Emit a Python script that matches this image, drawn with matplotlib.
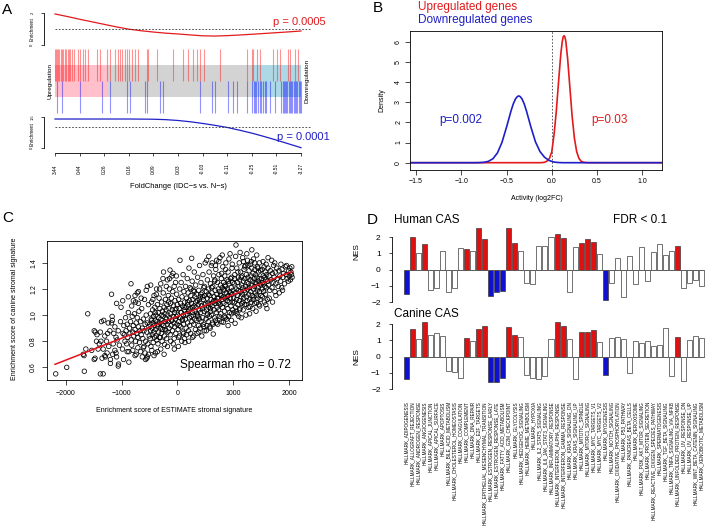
import numpy as np
import matplotlib
matplotlib.use('Agg')
import matplotlib.pyplot as plt

plt.rcParams['font.family'] = ['Liberation Sans', 'DejaVu Sans']
plt.rcParams['axes.linewidth'] = 0.6

RED = '#E31A1C'
BLUE = '#1F1FC8'
BAR_RED = '#DD1111'
BAR_BLUE = '#1010D0'

# ================= Panel A data =================
fc_tick_labels = ['3.44', '0.44', '0.26', '0.16', '0.09', '0.03', '-0.03', '-0.11', '-0.25', '-0.51', '-3.27']
up_worm_rank = [0, .05, .1, .15, .2, .25, .3, .35, .4, .45, .5, .55, .6, .65, .7, .75, .8, .85, .9, .95, 1.0]
up_worm_enrich = [1.94, 1.78, 1.61, 1.45, 1.29, 1.13, 0.99, 0.89, 0.81, 0.74, 0.69, 0.63, 0.575, 0.56, 0.585,
                  0.625, 0.67, 0.72, 0.77, 0.82, 0.875]
down_worm_rank = [0, .1, .2, .3, .35, .4, .45, .5, .55, .6, .65, .7, .75, .8, .85, .9, .95, 1.0]
down_worm_enrich = [1.39, 1.39, 1.39, 1.39, 1.385, 1.38, 1.36, 1.32, 1.26, 1.18, 1.09, 0.99, 0.86, 0.72,
                    0.56, 0.39, 0.21, 0.03]
up_gene_ranks = [0.0, 0.004, 0.008, 0.012, 0.018, 0.024, 0.028, 0.034, 0.041, 0.045, 0.051, 0.057, 0.061,
                 0.069, 0.077, 0.093, 0.102, 0.114, 0.122, 0.134, 0.171, 0.183, 0.211, 0.224, 0.244, 0.256,
                 0.264, 0.272, 0.285, 0.293, 0.301, 0.313, 0.325, 0.337, 0.374, 0.378, 0.415, 0.48, 0.52,
                 0.541, 0.561, 0.577, 0.589, 0.606, 0.671, 0.78, 0.801, 0.805, 0.821, 0.833, 0.886, 0.902,
                 0.915, 0.947, 0.955, 0.976, 0.988]
down_gene_ranks = [0.007, 0.027, 0.102, 0.19, 0.224, 0.292, 0.305, 0.366, 0.372, 0.427, 0.44, 0.589, 0.637,
                   0.65, 0.705, 0.725, 0.738, 0.779, 0.801, 0.807, 0.813, 0.818, 0.825, 0.832, 0.838, 0.845,
                   0.852, 0.858, 0.874, 0.894, 0.92, 0.925, 0.93, 0.935, 0.94, 0.945, 0.95, 0.955, 0.96,
                   0.965, 0.97, 0.975, 0.98, 0.985, 0.99, 0.995, 1.0]
up_shade_end = 0.215
down_shade_start = 0.80
pA_up = 'p = 0.0005'
pA_down = 'p = 0.0001'

# ================= Panel B data =================
b_up_x = [-1.6, -0.15, -0.1, -0.075, -0.05, -0.025, 0.0, 0.025, 0.05, 0.075, 0.1, 0.115, 0.125, 0.135,
          0.145, 0.155, 0.175, 0.2, 0.225, 0.25, 0.275, 0.3, 0.325, 0.35, 0.4, 1.25]
b_up_y = [0, 0, 0.006, 0.03, 0.088, 0.22, 0.55, 1.39, 2.56, 4.02, 5.41, 5.98, 6.22, 6.3, 6.23, 6.02, 5.16,
          3.72, 2.29, 1.21, 0.546, 0.21, 0.07, 0.02, 0.001, 0]
b_down_x = [-1.6, -0.85, -0.8, -0.75, -0.7, -0.65, -0.6, -0.55, -0.5, -0.45, -0.425, -0.4, -0.38, -0.365,
            -0.35, -0.33, -0.305, -0.28, -0.23, -0.18, -0.13, -0.08, -0.03, 0.02, 0.07, 0.12, 1.25]
b_down_y = [0, 0.0, 0.005, 0.019, 0.067, 0.197, 0.487, 1.01, 1.76, 2.57, 2.92, 3.17, 3.28, 3.31, 3.28,
            3.17, 2.92, 2.57, 1.76, 1.03, 0.55, 0.27, 0.11, 0.035, 0.01, 0.0, 0]
pB_down = 'p=0.002'
pB_up = 'p=0.03'

# ================= Panel C data =================
stromal_pairs = [
    (-2179, 0.55), (-1982, 0.60), (-1667, 0.57), (-1685, 0.70), (-1672, 0.69), (-1535, 0.73), (-1606, 1.01),
    (-1640, 0.74),
    (-1490, 0.88), (-1470, 0.87), (-1490, 0.66), (-1475, 0.67), (-1360, 0.95), (-1320, 0.96), (-1380, 0.55),
    (-1330, 0.55), (-1370, 0.80), (-1270, 0.80), (-1290, 0.68), (-1300, 0.69), (-1200, 0.66), (-1200, 0.63),
    (-1180, 0.94), (-1170, 0.99), (-1165, 0.96), (-1180, 1.16), (-1055, 0.625), (-1120, 0.73), (-1100, 0.71),
    (-1100, 0.83), (-1080, 0.81), (-1090, 1.09), (-1010, 1.06), (-1060, 0.61), (-1090, 0.68), (-1440, 0.85),
    (-1420, 0.74), (-1400, 0.78), (-1350, 0.67), (-1330, 0.74), (-1300, 0.84), (-1250, 0.86), (-1230, 0.76),
    (-1210, 0.88), (-1150, 0.78), (-1140, 0.86), (-1120, 0.91), (-1060, 0.88), (-1040, 0.77), (-1020, 0.95),
    (-1260, 0.71), (-1160, 0.70), (-1240, 0.94), (-1450, 0.80), (-1380, 0.87),
    (-980, 1.11), (-832, 1.24), (-790, 1.11), (-750, 1.10), (-700, 1.09), (-700, 1.18), (-720, 1.17),
    (-760, 0.69), (-740, 0.70), (-900, 0.72), (-910, 0.78), (-820, 0.77), (-870, 0.72), (-710, 0.75),
    (-610, 0.75), (-570, 0.66), (-540, 0.68), (-550, 0.67), (-520, 0.70), (-960, 0.92), (-950, 0.85),
    (-940, 0.80), (-930, 0.98), (-920, 0.88), (-900, 0.93), (-890, 0.83), (-880, 1.02), (-860, 0.90),
    (-850, 0.86), (-840, 0.95), (-830, 0.81), (-810, 0.99), (-800, 0.87), (-790, 0.92), (-780, 0.84),
    (-770, 1.01), (-760, 0.89), (-750, 0.80), (-740, 0.94), (-730, 0.86), (-720, 0.98), (-710, 0.83),
    (-700, 0.91), (-690, 1.03), (-680, 0.79), (-670, 0.88), (-660, 0.95), (-650, 0.85), (-640, 1.05),
    (-630, 0.90), (-620, 0.82), (-610, 0.97), (-600, 0.88), (-590, 1.12), (-580, 0.93), (-570, 0.80),
    (-560, 1.00), (-550, 0.87), (-540, 0.94), (-530, 0.78), (-520, 1.08), (-510, 0.91), (-505, 0.84),
    (-985, 0.74), (-975, 0.86), (-965, 0.66), (-870, 0.64), (-800, 0.73), (-660, 0.72), (-630, 0.68),
    (-600, 0.76), (-580, 0.71), (-880, 1.14), (-820, 1.07), (-760, 1.15), (-650, 1.13), (-560, 1.19),
    (-540, 1.22),
    (-495, 0.93), (-490, 0.82), (-485, 1.01), (-480, 0.88), (-475, 0.76), (-470, 0.97), (-465, 1.10),
    (-460, 0.73), (-455, 0.90), (-450, 0.85), (-445, 1.04), (-440, 0.94), (-435, 0.79), (-430, 0.99),
    (-425, 0.87), (-420, 1.15), (-415, 0.92), (-410, 0.83), (-405, 1.06), (-400, 0.96), (-395, 0.71),
    (-390, 0.89), (-385, 1.00), (-380, 0.84), (-375, 1.20), (-370, 0.81), (-365, 0.95), (-360, 1.08),
    (-355, 0.91), (-350, 0.78), (-345, 1.02), (-340, 0.87), (-335, 0.98), (-330, 1.13), (-325, 0.83),
    (-320, 0.94), (-315, 1.05), (-310, 0.83), (-305, 0.90), (-300, 1.24), (-295, 0.97), (-290, 0.86),
    (-285, 1.10), (-280, 0.93), (-275, 0.80), (-270, 1.03), (-265, 0.89), (-260, 0.99), (-255, 1.17),
    (-250, 1.33), (-245, 0.92), (-240, 1.06), (-235, 0.84), (-230, 0.775), (-225, 1.01), (-220, 0.95),
    (-215, 1.12), (-210, 0.88), (-205, 1.04), (-200, 0.97), (-195, 0.82), (-190, 1.08), (-185, 0.93),
    (-180, 1.27), (-175, 1.00), (-170, 0.87), (-165, 1.15), (-160, 0.95), (-155, 1.05), (-150, 0.90),
    (-145, 1.20), (-140, 0.98), (-134, 1.345), (-130, 0.85), (-125, 1.09), (-120, 1.01), (-115, 0.92),
    (-110, 1.13), (-105, 0.96), (-100, 1.30), (-95, 1.04), (-90, 0.88), (-85, 1.18), (-80, 0.99),
    (-75, 0.78), (-70, 1.07), (-65, 0.94), (-60, 1.22), (-57, 0.74), (-55, 1.02), (-50, 0.91), (-45, 1.11),
    (-40, 0.97), (-35, 1.25), (-30, 0.86), (-25, 1.05), (-20, 0.99), (-15, 1.16), (-10, 0.93), (-5, 1.08),
    (-480, 1.23), (-420, 0.69), (-360, 0.72), (-300, 0.74), (-240, 0.70), (-180, 0.76), (-120, 0.80),
    (-60, 0.82), (-440, 1.12), (-380, 1.16), (-320, 1.20), (-260, 1.28), (-200, 1.22), (-140, 1.28),
    (-80, 1.32), (-20, 1.30), (-460, 0.96), (-400, 1.02), (-340, 0.93), (-280, 1.00), (-220, 0.89),
    (-160, 1.10), (-100, 0.96), (-40, 1.04),
    (5, 1.00), (10, 0.89), (15, 0.76), (20, 1.12), (25, 0.95), (30, 1.05), (35, 0.84), (40, 1.20),
    (45, 1.42), (50, 0.98), (55, 1.09), (60, 0.91), (65, 1.25), (70, 1.02), (75, 0.80), (80, 1.14),
    (85, 0.96), (90, 1.07), (95, 0.87), (100, 1.31), (105, 1.00), (110, 0.93), (115, 1.18), (120, 1.04),
    (125, 0.82), (130, 1.10), (134, 0.79), (140, 0.97), (145, 1.22), (150, 1.06), (155, 0.90), (160, 1.13),
    (164, 0.85), (170, 1.01), (175, 1.28), (180, 0.94), (185, 1.08), (190, 1.17), (195, 0.88), (200, 1.03),
    (205, 1.36), (210, 0.98), (215, 1.11), (220, 0.92), (225, 1.21), (230, 1.05), (235, 0.86), (240, 1.15),
    (245, 0.99), (250, 1.09), (254, 1.435), (258, 0.95), (262, 1.26), (266, 1.02), (270, 0.83), (275, 1.12),
    (280, 1.00), (285, 1.19), (290, 0.93), (295, 1.07), (300, 1.33), (305, 0.97), (310, 1.14), (315, 1.03),
    (320, 0.89), (325, 1.23), (330, 1.06), (335, 0.96), (340, 1.16), (345, 1.01), (350, 0.86), (355, 1.11),
    (360, 1.29), (365, 0.99), (370, 1.08), (375, 0.92), (380, 1.19), (385, 1.04), (390, 0.97), (395, 1.38),
    (400, 1.10), (405, 0.90), (410, 1.14), (415, 1.02), (420, 1.25), (425, 0.95), (430, 1.07), (435, 0.84),
    (440, 1.17), (445, 1.05), (450, 0.98), (455, 1.31), (460, 1.12), (465, 0.93), (470, 1.21), (475, 1.03),
    (480, 0.88), (485, 1.15), (490, 1.08), (495, 1.40), (30, 0.92), (90, 0.97), (150, 1.00), (210, 1.04),
    (270, 1.06), (330, 1.10), (390, 1.12), (450, 1.14), (60, 1.02), (120, 1.06), (180, 1.10), (240, 1.20),
    (300, 1.18), (360, 1.00), (420, 1.16), (480, 1.22), (20, 0.83), (110, 0.86), (200, 0.80), (290, 0.84),
    (380, 0.87), (470, 0.91),
    (505, 1.09), (510, 0.97), (515, 1.18), (520, 1.04), (522, 1.42), (525, 0.92), (530, 1.13), (535, 1.27),
    (540, 1.01), (545, 1.09), (550, 0.95), (555, 1.20), (560, 1.06), (565, 1.33), (570, 0.99), (575, 1.15),
    (580, 1.08), (585, 0.90), (590, 1.24), (595, 1.03), (600, 1.12), (605, 1.38), (610, 1.00), (615, 1.17),
    (620, 1.07), (625, 0.94), (630, 1.22), (635, 1.10), (640, 0.855), (645, 1.30), (650, 1.04), (655, 1.14),
    (660, 0.98), (665, 1.26), (670, 1.09), (675, 1.19), (680, 0.96), (685, 1.35), (690, 1.11), (695, 1.02),
    (700, 1.42), (705, 1.16), (710, 1.06), (715, 1.25), (720, 0.93), (725, 1.13), (730, 1.20), (735, 1.04),
    (740, 1.31), (745, 1.10), (750, 0.99), (755, 1.18), (760, 1.44), (765, 1.08), (770, 1.23), (775, 1.01),
    (780, 1.15), (785, 1.28), (790, 0.95), (795, 1.12), (800, 1.21), (805, 1.06), (810, 1.37), (815, 1.14),
    (820, 0.945), (825, 1.25), (830, 1.09), (835, 1.19), (840, 1.03), (845, 1.30), (850, 1.13), (855, 0.98),
    (860, 1.22), (865, 1.40), (870, 1.08), (875, 1.17), (880, 0.97), (885, 1.27), (890, 1.11), (895, 1.20),
    (900, 1.05), (905, 1.33), (910, 1.15), (915, 0.99), (920, 1.24), (925, 1.10), (930, 1.18), (935, 1.02),
    (940, 1.47), (945, 1.13), (950, 1.28), (955, 1.07), (960, 1.21), (965, 0.96), (970, 1.16), (975, 1.36),
    (980, 1.10), (985, 1.25), (990, 1.04), (995, 1.19), (515, 0.88), (575, 0.91), (635, 0.93), (695, 0.94),
    (755, 0.97), (845, 0.99), (905, 0.92), (965, 1.01), (530, 1.00), (590, 1.05), (650, 1.11), (710, 1.13),
    (770, 1.16), (830, 1.20), (890, 1.14), (950, 1.17), (550, 1.16), (610, 1.21), (670, 1.27), (730, 1.09),
    (790, 1.32), (850, 1.23), (910, 1.26), (970, 1.29), (560, 1.45), (620, 1.40), (680, 1.38), (740, 1.41),
    (800, 1.46), (860, 1.35), (920, 1.43), (980, 1.39),
    (1005, 1.13), (1010, 1.02), (1015, 1.24), (1020, 1.10), (1025, 1.31), (1030, 0.937), (1035, 1.17),
    (1040, 1.06), (1046, 1.537), (1050, 1.20), (1055, 1.12), (1060, 1.36), (1065, 1.01), (1070, 1.25),
    (1075, 1.15), (1080, 1.08), (1085, 1.29), (1090, 1.19), (1095, 0.99), (1100, 1.22), (1105, 1.40),
    (1110, 1.11), (1115, 1.27), (1120, 1.05), (1125, 1.18), (1130, 1.33), (1135, 1.14), (1140, 0.98),
    (1145, 1.23), (1150, 1.09), (1155, 1.30), (1160, 1.16), (1165, 1.44), (1170, 1.21), (1175, 1.04),
    (1180, 1.26), (1185, 1.13), (1190, 1.35), (1195, 1.19), (1200, 1.08), (1205, 1.28), (1210, 1.17),
    (1215, 1.38), (1220, 1.22), (1225, 1.00), (1230, 1.31), (1235, 1.14), (1240, 1.25), (1245, 1.11),
    (1250, 1.42), (1255, 1.20), (1260, 1.29), (1265, 1.06), (1270, 1.24), (1275, 1.16), (1280, 1.34),
    (1285, 1.21), (1290, 1.12), (1297, 1.064), (1300, 1.27), (1305, 1.39), (1310, 1.18), (1315, 1.30),
    (1320, 1.10), (1325, 1.23), (1330, 1.36), (1335, 1.15), (1340, 1.26), (1345, 1.05), (1350, 1.32),
    (1355, 1.20), (1360, 1.43), (1365, 1.14), (1370, 1.28), (1375, 1.22), (1380, 1.09), (1385, 1.35),
    (1390, 1.25), (1395, 1.17), (1400, 1.31), (1405, 1.03), (1410, 1.24), (1416, 1.095), (1417, 1.46),
    (1420, 1.29), (1425, 1.19), (1430, 1.37), (1435, 1.13), (1440, 1.26), (1445, 1.21), (1450, 1.33),
    (1455, 1.08), (1460, 1.28), (1465, 1.40), (1470, 1.18), (1475, 1.24), (1480, 1.12), (1485, 1.34),
    (1490, 1.23), (1495, 1.15), (1020, 1.28), (1080, 1.33), (1140, 1.29), (1200, 1.37), (1260, 1.38),
    (1320, 1.41), (1380, 1.40), (1440, 1.36), (1050, 1.03), (1110, 1.04), (1170, 1.10), (1230, 1.08),
    (1290, 1.01), (1350, 1.12), (1410, 1.15), (1470, 1.07), (1040, 1.45), (1120, 1.48), (1180, 1.41),
    (1240, 1.47), (1330, 1.50),
    (1505, 1.28), (1510, 1.20), (1515, 1.35), (1520, 1.14), (1525, 1.25), (1530, 1.41), (1535, 1.30),
    (1540, 1.18), (1545, 1.24), (1550, 1.37), (1555, 1.10), (1560, 1.29), (1565, 1.22), (1570, 1.33),
    (1575, 1.16), (1580, 1.27), (1585, 1.39), (1590, 1.21), (1595, 1.31), (1600, 1.05), (1607, 1.12),
    (1615, 1.26), (1620, 1.36), (1630, 1.23), (1640, 1.30), (1650, 1.19), (1660, 1.34), (1670, 1.27),
    (1685, 1.42), (1690, 1.21), (1700, 1.32), (1710, 1.25), (1720, 1.38), (1730, 1.29), (1744, 1.18),
    (1750, 1.33), (1760, 1.24), (1775, 1.36), (1790, 1.28), (1800, 1.22), (1815, 1.34), (1830, 1.30),
    (1845, 1.26), (1864, 1.21), (1870, 1.35), (1885, 1.29), (1900, 1.32), (1915, 1.24), (1930, 1.37),
    (1945, 1.31), (1960, 1.28), (1983, 1.26), (1990, 1.34), (2000, 1.30), (2010, 1.36), (2020, 1.27),
    (2030, 1.33), (2040, 1.31), (2045, 1.37), (2050, 1.29), (1580, 1.08), (1640, 1.13), (1700, 1.10),
    (1760, 1.15), (1820, 1.17), (1880, 1.19), (1620, 1.44), (1740, 1.40), (1850, 1.39), (1950, 1.38),
]
fit_x = [-2191, 2043]
fit_y = [0.623, 1.333]
rho_text = 'Spearman rho = 0.72'

# ================= Panel D data =================
hallmarks = ['ADIPOGENESIS', 'ALLOGRAFT_REJECTION', 'ANDROGEN_RESPONSE', 'ANGIOGENESIS', 'APICAL_JUNCTION',
             'APICAL_SURFACE', 'APOPTOSIS', 'BILE_ACID_METABOLISM', 'CHOLESTEROL_HOMEOSTASIS', 'COAGULATION',
             'COMPLEMENT', 'DNA_REPAIR', 'E2F_TARGETS', 'EPITHELIAL_MESENCHYMAL_TRANSITION',
             'ESTROGEN_RESPONSE_EARLY', 'ESTROGEN_RESPONSE_LATE', 'FATTY_ACID_METABOLISM', 'G2M_CHECKPOINT',
             'GLYCOLYSIS', 'HEDGEHOG_SIGNALING', 'HEME_METABOLISM', 'HYPOXIA', 'IL2_STAT5_SIGNALING',
             'IL6_JAK_STAT3_SIGNALING', 'INFLAMMATORY_RESPONSE', 'INTERFERON_ALPHA_RESPONSE',
             'INTERFERON_GAMMA_RESPONSE', 'KRAS_SIGNALING_DN', 'KRAS_SIGNALING_UP', 'MITOTIC_SPINDLE',
             'MTORC1_SIGNALING', 'MYC_TARGETS_V1', 'MYC_TARGETS_V2', 'MYOGENESIS', 'NOTCH_SIGNALING',
             'OXIDATIVE_PHOSPHORYLATION', 'P53_PATHWAY', 'PANCREAS_BETA_CELLS', 'PEROXISOME',
             'PI3K_AKT_MTOR_SIGNALING', 'PROTEIN_SECRETION', 'REACTIVE_OXIGEN_SPECIES_PATHWAY',
             'SPERMATOGENESIS', 'TGF_BETA_SIGNALING', 'TNFA_SIGNALING_VIA_NFKB', 'UNFOLDED_PROTEIN_RESPONSE',
             'UV_RESPONSE_DN', 'UV_RESPONSE_UP', 'WNT_BETA_CATENIN_SIGNALING', 'XENOBIOTIC_METABOLISM']
human_nes = [-1.53, 2.0, 1.0, 1.57, -1.25, -1.1, 1.16, -1.4, -1.1, 1.33,
             1.27, 1.14, 2.6, 1.88, -1.62, -1.37, -1.33, 2.59, 1.65, 1.16,
             -0.85, -0.88, 1.47, 1.47, 2.0, 2.2, 1.98, -1.4, 1.39, 1.63,
             1.88, 1.71, 0.96, -1.84, -0.82, 0.71, -1.67, 0.82, -0.88, 1.39,
             -0.67, 1.08, 1.61, 0.9, 1.14, 1.49, -1.1, -0.82, -0.61, -0.98]
canine_nes = [-1.36, 1.73, 1.11, 2.14, 1.34, 1.48, 1.3, -0.87, -0.95, -1.3,
              1.18, 0.97, 1.73, 1.92, -1.57, -1.55, -1.34, 1.86, 1.34, 1.2,
              -1.13, -1.34, -1.4, -1.2, 1.08, 2.14, 1.9, 1.11, -1.36, 1.55,
              1.51, 1.66, 0.92, -1.14, 1.15, 1.23, 1.07, -1.0, 0.99, 0.87,
              0.99, 0.66, 0.74, 1.75, -1.2, 1.23, -1.53, 1.03, 1.29, 1.17]
# 1 = significantly up, -1 = significantly down, 0 = not significant (FDR >= 0.1)
human_sig = [-1, 1, 0, 1, 0, 0, 0, 0, 0, 0,
             1, 0, 1, 1, -1, -1, -1, 1, 1, 0,
             0, 0, 0, 0, 0, 1, 1, 0, 0, 1,
             1, 1, 0, -1, 0, 0, 0, 0, 0, 0,
             0, 0, 0, 0, 0, 1, 0, 0, 0, 0]
canine_sig = [-1, 1, 0, 1, 0, 0, 0, 0, 0, 0,
              1, 0, 1, 1, -1, -1, -1, 1, 1, 0,
              0, 0, 0, 0, 0, 1, 1, 0, 0, 1,
              1, 1, 0, -1, 0, 0, 0, 0, 0, 0,
              0, 0, 0, 0, 0, 1, 0, 0, 0, 0]

# ================= Figure =================
W, H = 708, 526
fig = plt.figure(figsize=(W / 100, H / 100), dpi=100)


def ax_px(x0, y0, x1, y1):
    return fig.add_axes([x0 / W, 1 - y1 / H, (x1 - x0) / W, (y1 - y0) / H])


def ftext(x, y, s, **kw):
    kw.setdefault('va', 'center')
    return fig.text(x / W, 1 - y / H, s, **kw)


# ---------------- Panel A ----------------
xlA = (-(55 - 44) / 246, (330 - 55) / 246)

axw1 = ax_px(44, 10, 330, 48)
axw1.set_xlim(xlA)
axw1.set_ylim(-3 / 16, 2 + 3 / 16)
axw1.plot(up_worm_rank, up_worm_enrich, color=RED, lw=0.9)
axw1.hlines(1, 0, 1.037, colors='#333333', linestyles=(0, (2, 2)), lw=0.6)
for s in ['top', 'right', 'bottom']:
    axw1.spines[s].set_visible(False)
axw1.spines['left'].set_bounds(0, 2)
axw1.spines['left'].set_linewidth(0.6)
axw1.set_xticks([])
axw1.set_yticks([0, 2], ['0', '2'])
axw1.tick_params(axis='y', labelsize=3, length=2.2, width=0.5, pad=6.2)
plt.setp(axw1.get_yticklabels(), rotation=90, ha='center', va='center')
axw1.set_ylabel('Enrichment', fontsize=3.3)
axw1.yaxis.set_label_coords(-12 / 286, 0.5)
axw1.yaxis.label.set_va('center')
axw1.patch.set_visible(False)
ftext(273, 22, pA_up, color=RED, fontsize=8, ha='left')

axb = ax_px(44, 46, 330, 116)
axb.set_xlim(xlA)
axb.set_ylim(-35 / 16, 35 / 16)
axb.axis('off')
axb.fill_between([0, 1], -1, 1, color='#D3D3D3', lw=0)
axb.fill_between([0, up_shade_end], -1, 1, color='#FFC0CB', lw=0)
axb.fill_between([down_shade_start, 1], -1, 1, color='#ADD8E6', lw=0)
axb.vlines(up_gene_ranks, 0, 2, colors='#FF1010', alpha=0.45, lw=0.8)
axb.vlines(down_gene_ranks, -2, 0, colors='#1010FF', alpha=0.45, lw=0.8)
axb.text(-0.02, 0, 'Upregulation', rotation=90, ha='center', va='center', fontsize=4.6)
axb.text(1.026, 0, 'Downregulation', rotation=90, ha='center', va='center', fontsize=4.6)

axw2 = ax_px(44, 114, 330, 153.3)
axw2.set_xlim(xlA)
axw2.set_ylim(-5 / 21.07, (148.3 - 114) / 21.07)
axw2.plot(down_worm_rank, down_worm_enrich, color=BLUE, lw=0.9)
axw2.hlines(1, 0, 1.037, colors='#333333', linestyles=(0, (2, 2)), lw=0.6)
for s in ['top', 'right']:
    axw2.spines[s].set_visible(False)
axw2.spines['left'].set_bounds(0, 1.5)
axw2.spines['bottom'].set_bounds(0, 1)
axw2.set_yticks([0, 1.5], ['0', '1.5'])
axw2.tick_params(axis='y', labelsize=3, length=2.2, width=0.5, pad=6.2)
plt.setp(axw2.get_yticklabels(), rotation=90, ha='center', va='center')
axw2.set_ylabel('Enrichment', fontsize=3.3)
axw2.yaxis.set_label_coords(-12 / 286, 0.5)
axw2.yaxis.label.set_va('center')
axw2.set_xticks(np.linspace(0, 1, len(fc_tick_labels)), fc_tick_labels)
axw2.tick_params(axis='x', labelsize=3.5, length=2.4, width=0.5, pad=8.8)
plt.setp(axw2.get_xticklabels(), rotation=90, ha='center', va='center')
axw2.patch.set_visible(False)
ftext(277, 137, pA_down, color=BLUE, fontsize=8, ha='left')
ftext(178, 186.5, 'FoldChange (IDC\u2212s vs. N\u2212s)', fontsize=5.4, ha='center')

# ---------------- Panel B ----------------
axB = ax_px(410, 30.7, 661.7, 170)
axB.set_xlim(-1.566, 1.214)
axB.set_ylim(-0.362, 6.544)
axB.axvline(0, color='#444444', ls=(0, (2, 2)), lw=0.6)
axB.plot(b_up_x, b_up_y, color=RED, lw=1.2)
axB.plot(b_down_x, b_down_y, color=BLUE, lw=1.2)
axB.set_xticks([-1.5, -1.0, -0.5, 0.0, 0.5, 1.0])
axB.set_yticks(range(0, 7))
axB.tick_params(labelsize=5, length=3.4, width=0.5)
axB.tick_params(axis='y', pad=4.8)
axB.tick_params(axis='x', pad=4.8)
plt.setp(axB.get_yticklabels(), rotation=90, ha='center', va='center')
plt.setp(axB.get_xticklabels(), va='center')
ftext(382, 100, 'Density', rotation=90, fontsize=5, ha='center')
ftext(537, 198.5, 'Activity (log2FC)', fontsize=5, ha='center')
ftext(417.5, 7, 'Upregulated genes', color=RED, fontsize=8.5, ha='left')
ftext(417.5, 20.5, 'Downregulated genes', color=BLUE, fontsize=8.5, ha='left')
ftext(439, 120.5, pB_down, color=BLUE, fontsize=8.5, ha='left')
ftext(591, 120.5, pB_up, color=RED, fontsize=8.5, ha='left')

# ---------------- Panel C ----------------
axC = ax_px(46.7, 240.7, 301.7, 380)
axC.set_xlim(-2340, 2222)
axC.set_ylim(0.503, 1.57)
sx = [p[0] for p in stromal_pairs]
sy = [p[1] for p in stromal_pairs]
axC.scatter(sx, sy, s=10.5, facecolors='none', edgecolors='black', linewidths=0.55)
axC.plot(fit_x, fit_y, color='#E8101A', lw=1.1)
axC.set_xticks([-2000, -1000, 0, 1000, 2000])
axC.set_yticks([0.6, 0.8, 1.0, 1.2, 1.4])
axC.tick_params(labelsize=5, length=3.4, width=0.5, pad=6)
plt.setp(axC.get_yticklabels(), rotation=90, ha='center', va='center')
plt.setp(axC.get_xticklabels(), va='center')
ftext(291, 365, rho_text, fontsize=8.5, ha='right')
ftext(174, 411, 'Enrichment score of ESTIMATE stromal signature', fontsize=5, ha='center')
ftext(15, 309, 'Enrichment score of canine stromal signature', fontsize=5, ha='center', rotation=90)

# ---------------- Panel D ----------------
xpos = 0.7 + 1.2 * np.arange(len(hallmarks))
cmap = {1: BAR_RED, -1: BAR_BLUE, 0: 'white'}


def nes_axes(box, vals, sig, ylim):
    ax = ax_px(*box)
    ax.set_xlim(-2.26, 60.86)
    ax.set_ylim(*ylim)
    ax.hlines(0, xpos[0] - 0.5, xpos[-1] + 0.5, colors='#555555', lw=0.5)
    ax.bar(xpos, vals, width=1.0, color=[cmap[k] for k in sig], edgecolor='#3a3a3a', linewidth=0.5)
    for s in ['top', 'right', 'bottom']:
        ax.spines[s].set_visible(False)
    ax.spines['left'].set_bounds(-2, 2)
    ax.spines['left'].set_linewidth(0.6)
    ax.set_yticks([-2, -1, 0, 1, 2])
    ax.tick_params(axis='y', labelsize=6, length=2.4, width=0.5, pad=5.8)
    ax.patch.set_visible(False)
    return ax


axH = nes_axes((392, 224.3, 708, 310.2), human_nes, human_sig, (-2.5, 2.8))
axH.set_xticks([])
axK = nes_axes((392, 316.2, 708, 397.1), canine_nes, canine_sig, (-2.5, 2.5))
axK.set_xticks(xpos, ['HALLMARK_' + h for h in hallmarks])
axK.tick_params(axis='x', length=0, pad=2.9, labelsize=3.35)
plt.setp(axK.get_xticklabels(), rotation=90, ha='center', va='top')

ftext(357, 252, 'NES', rotation=90, fontsize=6, ha='center')
ftext(357, 357, 'NES', rotation=90, fontsize=6, ha='center')
ftext(394, 220, 'Human CAS', fontsize=8.5, ha='left')
ftext(613, 220, 'FDR < 0.1', fontsize=8.5, ha='left')
ftext(394, 314, 'Canine CAS', fontsize=8.5, ha='left')

# panel letters
ftext(2, 10, 'A', fontsize=11, ha='left')
ftext(373, 8, 'B', fontsize=11, ha='left')
ftext(2, 218, 'C', fontsize=11, ha='left')
ftext(367, 220, 'D', fontsize=11, ha='left')

fig.savefig('out.png', dpi=100)
